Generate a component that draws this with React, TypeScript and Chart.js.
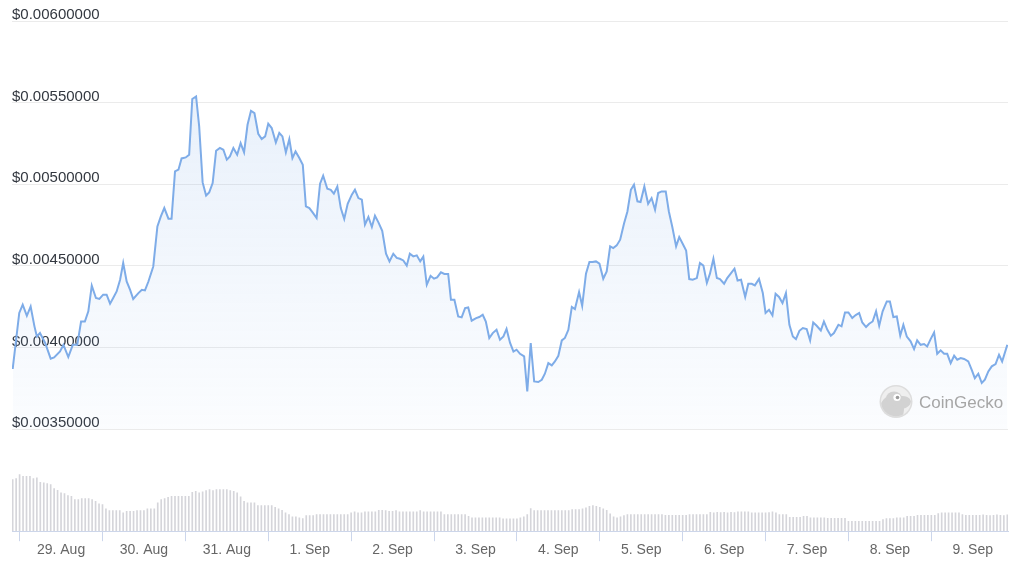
import { useEffect, useRef } from 'react';
import { Chart, registerables } from 'chart.js';

Chart.register(...registerables);

// Hours since 28 Aug 10:00 at which the price line has a vertex
const priceHours = [
  0.0, 1.9, 2.9, 4.1, 5.2, 6.3, 7.0, 7.9, 9.4, 11.0,
  12.0, 13.7, 14.7, 16.1, 17.4, 18.7, 19.8, 20.9, 21.9, 22.9,
  24.1, 25.1, 26.2, 27.2, 28.2, 29.1, 30.1, 31.1, 32.0, 33.0,
  34.0, 34.9, 36.4, 37.4, 38.3, 39.3, 40.7, 41.9, 42.9, 43.9,
  45.1, 46.0, 47.0, 48.0, 48.9, 50.1, 51.1, 52.0, 53.1, 54.0,
  55.0, 56.0, 56.9, 57.9, 58.9, 60.0, 61.0, 62.0, 62.9, 63.9,
  65.0, 66.0, 67.0, 68.0, 69.0, 70.0, 71.1, 72.1, 73.1, 74.0,
  75.0, 76.2, 77.2, 78.1, 79.1, 80.1, 81.0, 81.9, 83.0, 84.0,
  84.9, 85.9, 87.0, 88.0, 89.0, 89.9, 91.1, 92.1, 93.0, 94.0,
  95.0, 96.0, 97.0, 98.2, 99.1, 100.1, 101.1, 102.0, 103.0, 104.0,
  104.9, 105.9, 107.0, 108.1, 109.1, 110.2, 111.2, 112.1, 113.1, 114.1,
  115.0, 116.0, 117.0, 118.0, 118.9, 119.9, 121.0, 122.0, 122.9, 124.0,
  125.0, 126.1, 126.9, 127.9, 129.0, 130.0, 131.0, 131.9, 132.9, 134.2,
  135.1, 136.1, 137.0, 138.0, 139.0, 140.1, 141.1, 142.1, 143.0, 144.0,
  145.0, 145.9, 146.9, 148.1, 149.0, 150.0, 151.0, 152.2, 153.2, 154.1,
  155.1, 156.1, 157.0, 158.0, 159.0, 159.9, 160.9, 161.9, 162.8, 164.0,
  164.9, 166.0, 167.0, 167.9, 168.9, 169.9, 171.0, 172.0, 173.0, 173.9,
  174.9, 175.9, 177.0, 178.0, 179.0, 179.9, 180.9, 181.8, 182.9, 184.0,
  185.0, 186.0, 186.9, 187.9, 189.1, 190.0, 191.0, 192.1, 193.0, 194.0,
  195.0, 195.9, 196.9, 198.1, 199.0, 200.0, 201.0, 201.9, 202.9, 203.9,
  204.8, 206.0, 206.9, 207.9, 209.0, 209.9, 210.9, 212.1, 213.0, 214.0,
  214.9, 216.1, 217.2, 218.0, 219.0, 220.0, 220.9, 221.9, 222.9, 223.9,
  224.9, 225.9, 226.8, 227.8, 228.8, 229.9, 230.9, 231.8, 232.8, 234.0,
  234.9, 235.9, 236.9, 237.8, 239.1, 240.0, 241.0, 242.0, 243.1, 244.1,
  245.1, 246.0, 247.1, 248.0, 249.0, 250.0, 250.9, 251.9, 253.1, 254.0,
  255.0, 256.0, 257.0, 257.9, 258.9, 260.0, 261.0, 261.9, 262.9, 263.9,
  264.8, 265.8, 266.8, 267.7, 268.7, 269.7, 270.6, 271.6, 272.6, 273.5,
  274.5, 275.5, 276.7, 277.7, 278.6, 279.6, 280.6, 281.5, 282.5, 283.5,
  284.6, 285.6, 286.5, 288.0,
];

// Price in USD at each vertex
const prices = [
  0.003868, 0.004211, 0.004262, 0.004194, 0.004251, 0.004129, 0.004067, 0.004088, 0.004027, 0.003931,
  0.003939, 0.003975, 0.004016, 0.003941, 0.004016, 0.004016, 0.004159, 0.004159, 0.004221, 0.004378,
  0.004303, 0.004297, 0.004323, 0.004323, 0.004268, 0.004303, 0.004343, 0.004415, 0.004517, 0.004404,
  0.004353, 0.004297, 0.004333, 0.004353, 0.004349, 0.004404, 0.004496, 0.004741, 0.004803, 0.004854,
  0.004789, 0.004789, 0.005078, 0.005089, 0.005158, 0.005164, 0.005181, 0.005522, 0.005538, 0.005354,
  0.005011, 0.004931, 0.004950, 0.005007, 0.005205, 0.005222, 0.005211, 0.005150, 0.005170, 0.005222,
  0.005181, 0.005252, 0.005195, 0.005364, 0.005450, 0.005436, 0.005309, 0.005277, 0.005293, 0.005371,
  0.005344, 0.005256, 0.005314, 0.005293, 0.005195, 0.005277, 0.005160, 0.005201, 0.005160, 0.005119,
  0.004864, 0.004854, 0.004823, 0.004793, 0.005003, 0.005052, 0.004972, 0.004966, 0.004942, 0.004986,
  0.004854, 0.004787, 0.004880, 0.004936, 0.004966, 0.004915, 0.004905, 0.004752, 0.004799, 0.004738,
  0.004807, 0.004766, 0.004715, 0.004574, 0.004527, 0.004574, 0.004548, 0.004543, 0.004533, 0.004501,
  0.004574, 0.004558, 0.004564, 0.004527, 0.004556, 0.004384, 0.004439, 0.004421, 0.004429, 0.004460,
  0.004450, 0.004450, 0.004292, 0.004292, 0.004190, 0.004184, 0.004241, 0.004245, 0.004164, 0.004180,
  0.004186, 0.004200, 0.004159, 0.004058, 0.004088, 0.004108, 0.004047, 0.004067, 0.004113, 0.004029,
  0.003975, 0.003986, 0.003961, 0.003945, 0.003730, 0.004027, 0.003792, 0.003788, 0.003802, 0.003839,
  0.003904, 0.003890, 0.003914, 0.003949, 0.004043, 0.004058, 0.004108, 0.004248, 0.004235, 0.004339,
  0.004255, 0.004452, 0.004523, 0.004523, 0.004527, 0.004513, 0.004421, 0.004466, 0.004619, 0.004609,
  0.004625, 0.004660, 0.004758, 0.004833, 0.004966, 0.004997, 0.004895, 0.004891, 0.004986, 0.004880,
  0.004915, 0.004844, 0.004946, 0.004956, 0.004956, 0.004833, 0.004738, 0.004619, 0.004676, 0.004635,
  0.004594, 0.004419, 0.004415, 0.004425, 0.004517, 0.004501, 0.004395, 0.004452, 0.004543, 0.004425,
  0.004419, 0.004390, 0.004425, 0.004452, 0.004482, 0.004410, 0.004415, 0.004309, 0.004390, 0.004390,
  0.004380, 0.004419, 0.004333, 0.004211, 0.004231, 0.004196, 0.004329, 0.004309, 0.004272, 0.004333,
  0.004139, 0.004067, 0.004051, 0.004102, 0.004119, 0.004113, 0.004043, 0.004153, 0.004133, 0.004104,
  0.004159, 0.004108, 0.004072, 0.004088, 0.004139, 0.004129, 0.004214, 0.004214, 0.004180, 0.004198,
  0.004211, 0.004153, 0.004125, 0.004145, 0.004159, 0.004221, 0.004133, 0.004221, 0.004282, 0.004282,
  0.004186, 0.004190, 0.004072, 0.004139, 0.004067, 0.004037, 0.003990, 0.004043, 0.004016, 0.004021,
  0.004006, 0.004051, 0.004092, 0.003961, 0.003982, 0.003961, 0.003961, 0.003904, 0.003949, 0.003925,
  0.003935, 0.003929, 0.003914, 0.003863, 0.003812, 0.003839, 0.003782, 0.003802, 0.003853, 0.003884,
  0.003898, 0.003955, 0.003914, 0.004016,
];

// Hourly trading volume (relative units), one bar per hour from 28 Aug 10:00
const volumes = [
  517, 527, 567, 550, 550, 550, 527, 533, 490, 483,
  477, 467, 427, 410, 383, 377, 357, 350, 317, 317,
  327, 327, 327, 317, 300, 273, 267, 223, 207, 207,
  207, 207, 183, 200, 200, 200, 207, 207, 207, 223,
  223, 223, 283, 317, 327, 340, 350, 350, 350, 350,
  350, 350, 390, 400, 383, 393, 407, 417, 407, 417,
  417, 417, 417, 407, 400, 383, 343, 300, 283, 283,
  283, 257, 257, 257, 257, 257, 240, 223, 210, 183,
  167, 143, 143, 133, 127, 157, 157, 157, 167, 167,
  167, 167, 167, 167, 167, 167, 167, 167, 183, 193,
  183, 183, 193, 193, 193, 193, 210, 210, 207, 200,
  200, 207, 193, 193, 193, 193, 193, 193, 207, 193,
  193, 193, 193, 193, 193, 167, 167, 167, 167, 167,
  167, 167, 150, 133, 133, 133, 133, 133, 133, 133,
  133, 133, 123, 123, 123, 123, 123, 133, 143, 167,
  227, 207, 207, 207, 207, 207, 207, 207, 207, 207,
  207, 207, 217, 217, 217, 223, 233, 250, 257, 250,
  240, 223, 210, 173, 143, 133, 143, 157, 167, 167,
  167, 167, 167, 167, 167, 167, 167, 167, 167, 160,
  160, 160, 160, 160, 160, 160, 167, 167, 167, 167,
  167, 167, 190, 183, 190, 187, 190, 183, 190, 187,
  193, 193, 193, 193, 183, 183, 183, 183, 183, 187,
  193, 183, 167, 167, 167, 140, 140, 140, 140, 150,
  150, 133, 133, 133, 133, 133, 130, 130, 130, 130,
  130, 130, 100, 100, 100, 100, 100, 100, 100, 100,
  100, 100, 117, 127, 127, 127, 133, 133, 133, 150,
  150, 150, 160, 160, 160, 160, 160, 160, 177, 183,
  183, 183, 183, 183, 183, 167, 160, 160, 160, 160,
  160, 163, 160, 157, 160, 163, 160, 157, 163,
];

const dayLabels = ['29. Aug', '30. Aug', '31. Aug', '1. Sep', '2. Sep', '3. Sep', '4. Sep', '5. Sep', '6. Sep', '7. Sep', '8. Sep', '9. Sep'];
const dayTickHours = [14, 38, 62, 86, 110, 134, 158, 182, 206, 230, 254, 278];
const priceTicks = [0.0035, 0.004, 0.0045, 0.005, 0.0055, 0.006];

const LINE_RGB = '126,172,232';
const FONT = "'Liberation Sans', Arial, Helvetica, sans-serif";

const watermark = {
  id: 'watermark',
  afterDatasetsDraw(chart: any) {
    const { ctx, chartArea } = chart;
    const cx = chartArea.right - 112;
    const cy = chartArea.top + 380.5;
    ctx.save();
    ctx.beginPath();
    ctx.arc(cx, cy, 16.5, 0, Math.PI * 2);
    ctx.fillStyle = '#dddddd';
    ctx.fill();
    ctx.beginPath();
    ctx.arc(cx, cy, 15, 0, Math.PI * 2);
    ctx.fillStyle = '#efefef';
    ctx.fill();
    ctx.save();
    ctx.beginPath();
    ctx.arc(cx, cy, 15, 0, Math.PI * 2);
    ctx.clip();
    ctx.fillStyle = '#d2d2d2';
    ctx.beginPath();
    ctx.ellipse(cx - 4, cy + 8, 12, 14, 0, 0, Math.PI * 2);
    ctx.fill();
    ctx.beginPath();
    ctx.ellipse(cx + 5, cy + 1, 10, 6.5, -0.15, 0, Math.PI * 2);
    ctx.fill();
    ctx.beginPath();
    ctx.ellipse(cx - 2, cy - 3, 8, 7, 0, 0, Math.PI * 2);
    ctx.fill();
    ctx.restore();
    ctx.beginPath();
    ctx.arc(cx + 1, cy - 4, 3.6, 0, Math.PI * 2);
    ctx.fillStyle = '#ffffff';
    ctx.fill();
    ctx.beginPath();
    ctx.arc(cx + 1.5, cy - 4, 1.8, 0, Math.PI * 2);
    ctx.fillStyle = '#9b9b9b';
    ctx.fill();
    ctx.font = `17px ${FONT}`;
    ctx.fillStyle = '#a6a6a6';
    ctx.textAlign = 'left';
    ctx.textBaseline = 'alphabetic';
    ctx.fillText('CoinGecko', cx + 23, cy + 6);
    ctx.restore();
  },
};

export default function App() {
  const canvasRef = useRef<HTMLCanvasElement | null>(null);

  useEffect(() => {
    document.body.style.margin = '0';
    const canvas = canvasRef.current;
    if (!canvas) return;
    Chart.defaults.font.family = FONT;

    const chart = new Chart(canvas, {
      type: 'line',
      data: {
        datasets: [
          {
            type: 'line',
            label: 'Price',
            data: priceHours.map((h, i) => ({ x: h, y: prices[i] })),
            borderColor: `rgb(${LINE_RGB})`,
            borderWidth: 2,
            pointRadius: 0,
            tension: 0,
            yAxisID: 'y',
            fill: { value: priceTicks[0] },
            backgroundColor: (c: any) => {
              const { chart: ch } = c;
              const area = ch.chartArea;
              if (!area) return `rgba(${LINE_RGB},0.08)`;
              const ys = ch.scales.y;
              const top = ys.getPixelForValue(priceTicks[4]);
              const bottom = ys.getPixelForValue(priceTicks[0]);
              const g = ch.ctx.createLinearGradient(0, top, 0, bottom);
              g.addColorStop(0, `rgba(${LINE_RGB},0.17)`);
              g.addColorStop(1, `rgba(${LINE_RGB},0.03)`);
              return g;
            },
            order: 1,
          } as any,
          {
            type: 'bar',
            label: 'Volume',
            data: volumes.map((v, i) => ({ x: i, y: v })),
            backgroundColor: '#d5d5da',
            barThickness: 1,
            yAxisID: 'yVol',
            order: 2,
          } as any,
        ],
      },
      options: {
        animation: false,
        responsive: false,
        devicePixelRatio: 1,
        layout: { padding: { left: 12, right: 16, top: 21, bottom: 6 } },
        plugins: { legend: { display: false }, tooltip: { enabled: false } },
        scales: {
          x: {
            type: 'linear',
            min: -0.2,
            max: 288.2,
            offset: false,
            afterBuildTicks: (axis: any) => {
              axis.ticks = dayTickHours.map((v) => ({ value: v }));
            },
            grid: { drawOnChartArea: false, tickLength: 10, color: '#ccd6eb', tickColor: '#ccd6eb' },
            border: { color: '#ccd6eb', width: 1 },
            ticks: {
              color: '#666666',
              font: { size: 14 },
              padding: 1,
              maxRotation: 0,
              autoSkip: false,
              callback: (_v: any, i: number) => dayLabels[i],
            },
          },
          y: {
            type: 'linear',
            position: 'left',
            min: 0.002874,
            max: 0.006,
            afterBuildTicks: (axis: any) => {
              axis.ticks = priceTicks.map((v) => ({ value: v }));
            },
            grid: { color: '#ebebeb', drawTicks: false, lineWidth: 1 },
            border: { display: false },
            ticks: {
              mirror: true,
              padding: 0,
              labelOffset: -6,
              color: '#333840',
              font: { size: 15 },
              callback: (v: any) => '$' + Number(v).toFixed(8),
            },
          },
          yVol: {
            type: 'linear',
            display: false,
            min: 0,
            max: 5105,
          },
        },
      } as any,
      plugins: [watermark],
    });

    return () => chart.destroy();
  }, []);

  return (
    <div style={{ position: 'absolute', left: 0, top: 0, width: 1024, height: 566 }}>
      <canvas ref={canvasRef} width={1024} height={566} style={{ display: 'block' }} />
    </div>
  );
}
